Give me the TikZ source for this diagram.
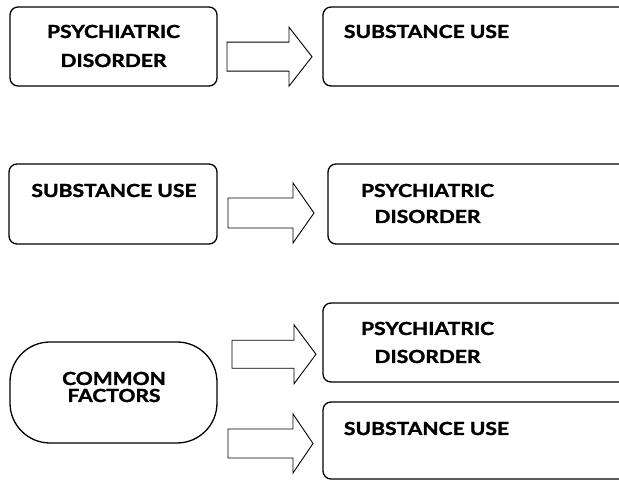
\documentclass[tikz,border=0pt]{standalone}
\usepackage{fontspec}
\setmainfont{Lato}[BoldFeatures={FakeStretch=1.17, FakeBold=1.6}]
\begin{document}
\begin{tikzpicture}[x=1pt,y=1pt,
  box/.style={draw, line width=1.3pt, rounded corners=8pt, inner sep=0pt},
  pill/.style={draw, line width=1.3pt, rounded corners=40pt, inner sep=0pt},
  lbl/.style={anchor=base, inner sep=0pt, font=\fontsize{18}{18}\selectfont\bfseries},
  blk/.style={draw, line width=0.9pt, line join=miter, fill=white}]
\clip (0,0) rectangle (619,481);
\fill[white] (0,0) rectangle (619,481);

% block arrow: tail x, head-base x, tip x, middle y, shaft half-height, head half-height
\newcommand\blockarrow[6]{%
  \draw[blk] (#1,#4-#5) -- (#2,#4-#5) -- (#2,#4-#6) -- (#3,#4)
    -- (#2,#4+#6) -- (#2,#4+#5) -- (#1,#4+#5) -- cycle;}

% row 1
\node[box, minimum width=207pt, minimum height=79pt] (pd1) at (113.5,434.5) {};
\node[box, minimum width=397pt, minimum height=79pt] (su1) at (521.5,434.5) {};
\node[lbl] (pd1a) at (113.5,443) {PSYCHIATRIC};
\node[lbl] (pd1b) at (113.5,414) {DISORDER};
\node[lbl] (su1a) at (426.5,443) {SUBSTANCE USE};
\blockarrow{227}{289}{312}{424.3}{14.5}{29.5}

% row 2
\node[box, minimum width=208pt, minimum height=80pt] (su2) at (113,277) {};
\node[box, minimum width=392pt, minimum height=80pt] (pd2) at (524,277) {};
\node[lbl] (su2a) at (114,284) {SUBSTANCE USE};
\node[lbl] (pd2a) at (427.5,284) {PSYCHIATRIC};
\node[lbl] (pd2b) at (427.5,258) {DISORDER};
\blockarrow{228}{293}{314}{268}{15}{30}

% row 3
\node[pill, minimum width=207pt, minimum height=101pt] (cf) at (113.5,88.5) {};
\node[lbl] (cfa) at (114,96) {COMMON};
\node[lbl] (cfb) at (114,79) {FACTORS};
\node[box, minimum width=397pt, minimum height=79pt] (pd3) at (521.5,138.5) {};
\node[lbl] (pd3a) at (427.5,146) {PSYCHIATRIC};
\node[lbl] (pd3b) at (427.5,118) {DISORDER};
\node[box, minimum width=397pt, minimum height=77pt] (su3) at (521.5,40.5) {};
\node[lbl] (su3a) at (426.5,46) {SUBSTANCE USE};
\blockarrow{232}{294}{316}{126.7}{14}{29.5}
\blockarrow{228}{293}{313}{37.5}{14.5}{29.5}
\end{tikzpicture}
\end{document}
